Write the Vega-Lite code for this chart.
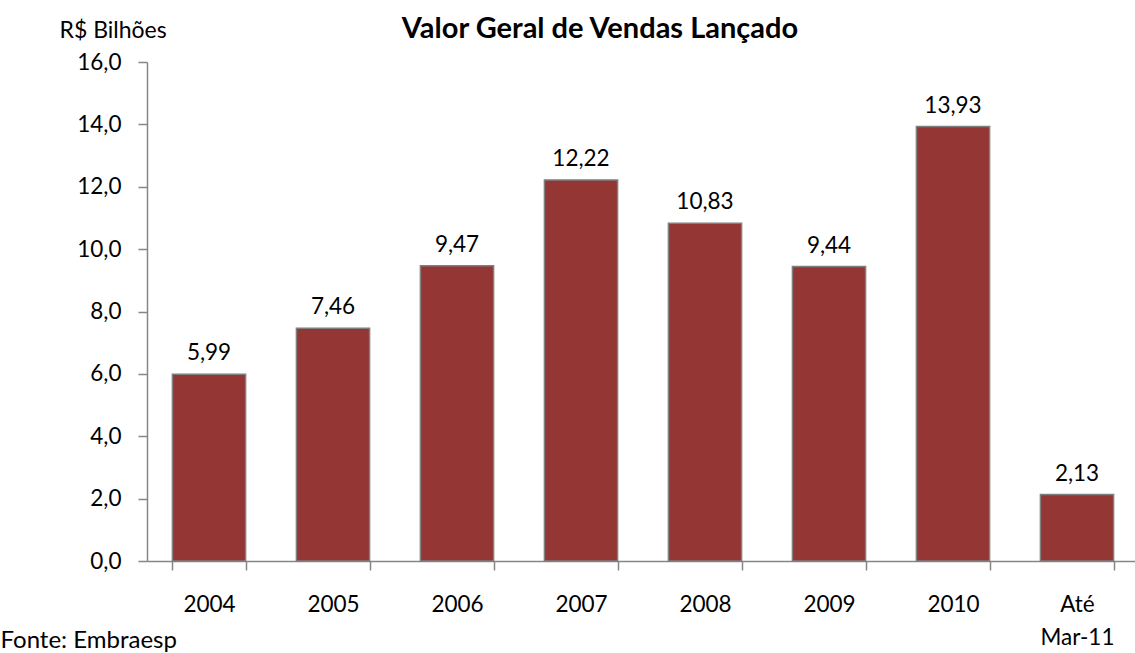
{
  "$schema": "https://vega.github.io/schema/vega-lite/v6.json",
  "width": 992,
  "height": 499,
  "autosize": {"type": "none"},
  "padding": {"left": 147, "top": 62, "right": 0, "bottom": 92},
  "background": "white",
  "config": {
    "locale": {"number": {"decimal": ",", "thousands": ".", "grouping": [3], "currency": ["R$", ""]}},
    "view": {"stroke": null},
    "font": "Lato"
  },
  "title": {
    "text": "Valor Geral de Vendas Lançado",
    "font": "Lato",
    "fontSize": 29,
    "fontWeight": "bold",
    "color": "black",
    "anchor": "middle",
    "frame": "group",
    "baseline": "alphabetic",
    "dx": -43,
    "offset": -48
  },
  "data": {
    "values": [
      {"periodo": "2004", "valor": 5.99},
      {"periodo": "2005", "valor": 7.46},
      {"periodo": "2006", "valor": 9.47},
      {"periodo": "2007", "valor": 12.22},
      {"periodo": "2008", "valor": 10.83},
      {"periodo": "2009", "valor": 9.44},
      {"periodo": "2010", "valor": 13.93},
      {"periodo": "Até Mar-11", "valor": 2.13}
    ]
  },
  "encoding": {
    "x": {
      "field": "periodo",
      "type": "nominal",
      "sort": null,
      "scale": {"paddingInner": 0.41, "paddingOuter": 0.205},
      "axis": {
        "title": "Fonte: Embraesp",
        "titleFont": "Lato",
        "titleFontSize": 24,
        "titleFontWeight": "normal",
        "titleColor": "black",
        "titleAnchor": null,
        "titleAlign": "left",
        "titleBaseline": "middle",
        "titleX": -147,
        "titleY": 79,
        "labelAngle": 0,
        "labelFont": "Lato",
        "labelFontSize": 22.5,
        "labelColor": "black",
        "labelPadding": 23,
        "labelLineHeight": 33,
        "labelBaseline": "top",
        "labelExpr": "datum.value == 'Até Mar-11' ? ['Até', 'Mar-11'] : datum.label",
        "tickBand": "extent",
        "tickSize": 9,
        "tickColor": "#868686",
        "domainColor": "#868686",
        "domainWidth": 1.5,
        "tickWidth": 1.5
      }
    },
    "y": {
      "field": "valor",
      "type": "quantitative",
      "scale": {"domain": [0, 16], "nice": false},
      "axis": {
        "title": "R$ Bilhões",
        "titleFont": "Lato",
        "titleFontSize": 23,
        "titleFontWeight": "normal",
        "titleColor": "black",
        "titleAngle": 0,
        "titleAnchor": null,
        "titleAlign": "left",
        "titleBaseline": "middle",
        "titleX": -88,
        "titleY": -32,
        "values": [0, 2, 4, 6, 8, 10, 12, 14, 16],
        "format": ".1f",
        "grid": false,
        "labelFont": "Lato",
        "labelFontSize": 22.5,
        "labelColor": "black",
        "labelPadding": 17,
        "tickSize": 9,
        "tickColor": "#868686",
        "domainColor": "#868686",
        "domainWidth": 1.5,
        "tickWidth": 1.5
      }
    }
  },
  "layer": [
    {
      "mark": {"type": "bar", "color": "#943634", "stroke": "#7f7f7f", "strokeWidth": 1.5}
    },
    {
      "mark": {"type": "text", "baseline": "bottom", "dy": -9, "font": "Lato", "fontSize": 22.5, "color": "black"},
      "encoding": {"text": {"field": "valor", "type": "quantitative", "format": ".2f"}}
    }
  ]
}
